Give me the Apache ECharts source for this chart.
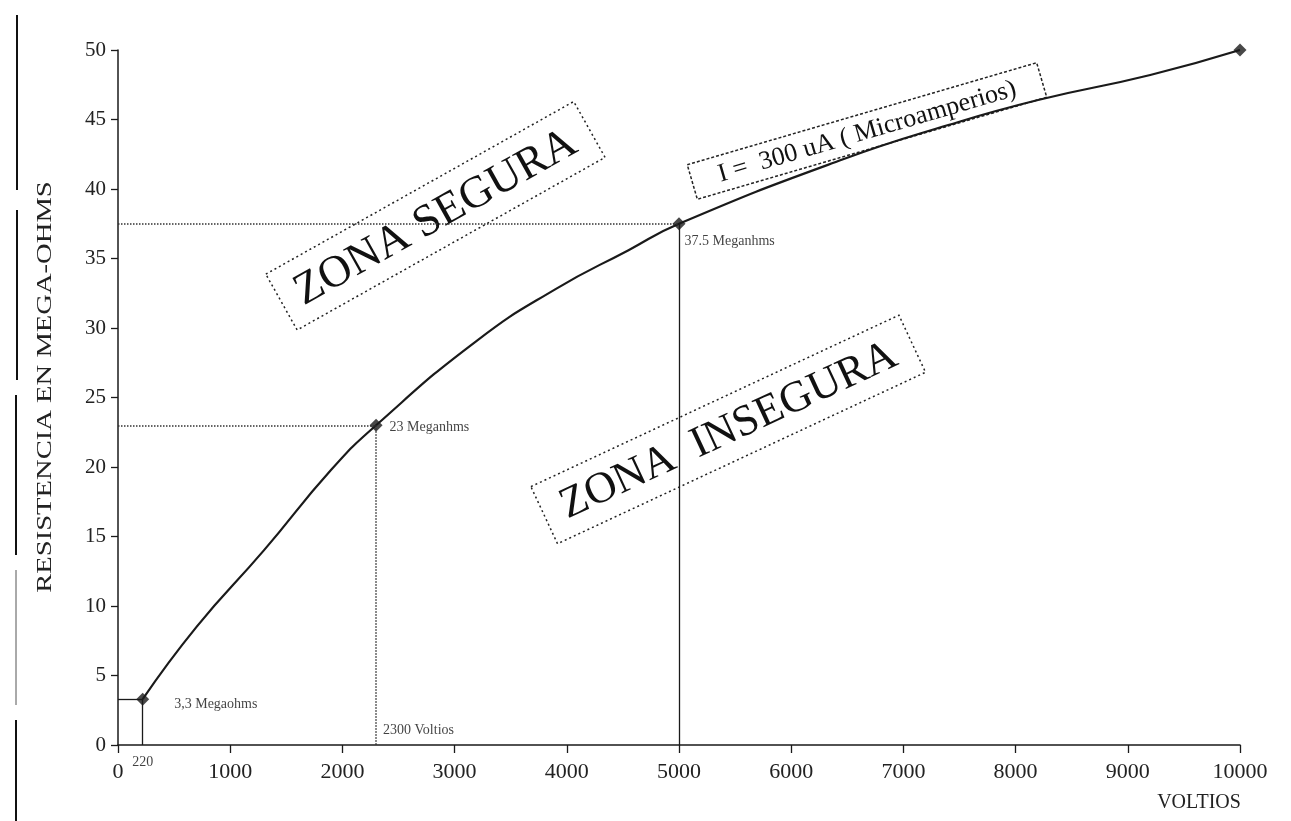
<!DOCTYPE html>
<html>
<head>
<meta charset="utf-8">
<script src="https://cdn.jsdelivr.net/npm/echarts@6/dist/echarts.min.js"></script>
<style>html,body{margin:0;padding:0;background:#fff;}#c{width:1291px;height:821px;}</style>
</head>
<body>
<div id="c"></div>
<script>
// ---- data ----
const voltios  = [220, 700, 1300, 1900, 2300, 3200, 3900, 4550, 5000, 6450, 7400, 8200, 9200, 10000];
const megaohms = [3.3, 8.5, 14.0, 19.8, 23, 29.1, 32.8, 35.6, 37.5, 42.1, 44.6, 46.4, 48.2, 50];

const keyVoltios  = [220, 2300, 5000, 10000];
const keyMegaohms = [3.3, 23, 37.5, 50];
const keyLabels   = ['3,3 Megaohms', '23 Meganhms', '37.5 Meganhms', ''];

const xTicks = [0, 1000, 2000, 3000, 4000, 5000, 6000, 7000, 8000, 9000, 10000];
const yTicks = [0, 5, 10, 15, 20, 25, 30, 35, 40, 45, 50];

const xTitle = 'VOLTIOS';
const yTitle = 'RESISTENCIA EN MEGA-OHMS';
const zoneSafe = 'ZONA SEGURA';
const zoneUnsafe = 'ZONA  INSEGURA';
const currentNote = 'I =  300 uA ( Microamperios)';
const voltNote = '2300 Voltios';

const SERIF = '"Liberation Serif", "DejaVu Serif", serif';
const INK = '#1a1a1a';

const chart = echarts.init(document.getElementById('c'), null, {renderer: 'canvas'});

const curve = voltios.map((v, i) => [v, megaohms[i]]);
const keyPts = keyVoltios.map((v, i) => ({
  value: [v, keyMegaohms[i]],
  label: {
    show: keyLabels[i] !== '',
    formatter: keyLabels[i],
    position: 'right',
    offset: i === 0 ? [20, 5] : (i === 1 ? [2, 2] : [-6, 18])
  }
}));

const dotted = {type: 'dotted', color: '#333', width: 1.5};
const solid = {type: 'solid', color: INK, width: 1.3};

const option = {
  backgroundColor: '#fff',
  animation: false,
  grid: {left: 118, right: 51, top: 50, bottom: 76},
  xAxis: {
    type: 'value', min: xTicks[0], max: xTicks[xTicks.length - 1], interval: 1000,
    axisLine: {show: true, lineStyle: {color: INK, width: 1.5}},
    axisTick: {show: true, length: 8, lineStyle: {color: INK, width: 1.3}},
    axisLabel: {color: '#222', fontFamily: SERIF, fontSize: 22, margin: 16, formatter: v => String(v)},
    splitLine: {show: false}
  },
  yAxis: {
    type: 'value', min: yTicks[0], max: yTicks[yTicks.length - 1], interval: 5,
    axisLine: {show: true, lineStyle: {color: INK, width: 1.5}},
    axisTick: {show: true, length: 7, lineStyle: {color: INK, width: 1.3}},
    axisLabel: {color: '#222', fontFamily: SERIF, fontSize: 21, margin: 12, formatter: v => String(v)},
    splitLine: {show: false}
  },
  series: [
    {
      type: 'line', name: 'curva', data: curve, smooth: 0.5,
      showSymbol: false, lineStyle: {color: INK, width: 2.2}, z: 3
    },
    {
      type: 'scatter', name: 'puntos', data: keyPts, symbol: 'diamond', symbolSize: 13,
      itemStyle: {color: INK}, z: 4,
      label: {color: '#111', fontFamily: SERIF, fontSize: 14},
      markLine: {
        silent: true, symbol: ['none', 'none'], animation: false,
        label: {show: false},
        data: [
          [{coord: [0, keyMegaohms[2]], lineStyle: dotted}, {coord: [keyVoltios[2], keyMegaohms[2]]}],
          [{coord: [keyVoltios[2], keyMegaohms[2]], lineStyle: solid}, {coord: [keyVoltios[2], 0]}],
          [{coord: [0, keyMegaohms[1]], lineStyle: dotted}, {coord: [keyVoltios[1], keyMegaohms[1]]}],
          [{coord: [keyVoltios[1], keyMegaohms[1]], lineStyle: dotted}, {coord: [keyVoltios[1], 0]}],
          [{coord: [0, keyMegaohms[0]], lineStyle: solid}, {coord: [keyVoltios[0], keyMegaohms[0]]}],
          [{coord: [keyVoltios[0], keyMegaohms[0]], lineStyle: solid}, {coord: [keyVoltios[0], 0]}]
        ]
      }
    },
    {
      type: 'scatter', name: 'notas', symbolSize: 0, z: 4,
      data: [
        {value: [keyVoltios[1], 0], label: {show: true, formatter: voltNote, position: 'right', offset: [2, -15]}},
        {value: [keyVoltios[0], 0], label: {show: true, formatter: String(keyVoltios[0]), position: 'bottom', distance: 10}}
      ],
      label: {color: '#111', fontFamily: SERIF, fontSize: 14}
    }
  ],
  graphic: [
    // scan border at left edge
    {type: 'line', shape: {x1: 17, y1: 15, x2: 17, y2: 190}, style: {stroke: '#111', lineWidth: 2}},
    {type: 'line', shape: {x1: 17, y1: 210, x2: 17, y2: 380}, style: {stroke: '#111', lineWidth: 2}},
    {type: 'line', shape: {x1: 16, y1: 395, x2: 16, y2: 555}, style: {stroke: '#111', lineWidth: 2}},
    {type: 'line', shape: {x1: 16, y1: 570, x2: 16, y2: 705}, style: {stroke: '#555', lineWidth: 1}},
    {type: 'line', shape: {x1: 16, y1: 720, x2: 16, y2: 821}, style: {stroke: '#111', lineWidth: 2}},
    // y axis title
    {
      type: 'text', x: 45, y: 387, rotation: Math.PI / 2, scaleX: 1.3,
      style: {text: yTitle, font: '22px ' + SERIF, fill: '#222', textAlign: 'center', textVerticalAlign: 'middle'}
    },
    // x axis title
    {
      type: 'text', x: 1199, y: 803,
      style: {text: xTitle, font: '20px ' + SERIF, fill: '#222', textAlign: 'center', textVerticalAlign: 'middle'}
    },
    // ZONA SEGURA box
    {
      type: 'group', x: 435, y: 216, rotation: 0.511,
      children: [
        {type: 'rect', shape: {x: -176, y: -32, width: 353, height: 64},
         style: {fill: 'none', stroke: '#222', lineWidth: 1.5, lineDash: [2, 3]}},
        {type: 'text', style: {text: zoneSafe, x: 0, y: 2, font: '45px ' + SERIF, fill: '#111', textAlign: 'center', textVerticalAlign: 'middle'}}
      ]
    },
    // ZONA INSEGURA box
    {
      type: 'group', x: 728, y: 429, rotation: 0.436,
      children: [
        {type: 'rect', shape: {x: -203, y: -31, width: 406, height: 63},
         style: {fill: 'none', stroke: '#222', lineWidth: 1.5, lineDash: [2, 3]}},
        {type: 'text', style: {text: zoneUnsafe, x: 0, y: 2, font: '44px ' + SERIF, fill: '#111', textAlign: 'center', textVerticalAlign: 'middle'}}
      ]
    },
    // current note box
    {
      type: 'group', x: 867, y: 131, rotation: 0.284,
      children: [
        {type: 'rect', shape: {x: -182, y: -18, width: 364, height: 36},
         style: {fill: '#fff', stroke: '#222', lineWidth: 1.5, lineDash: [3, 2]}},
        {type: 'text', style: {text: currentNote, x: 0, y: 1, font: '26px ' + SERIF, fill: '#111', textAlign: 'center', textVerticalAlign: 'middle'}}
      ]
    }
  ]
};
chart.setOption(option);
</script>
</body>
</html>
